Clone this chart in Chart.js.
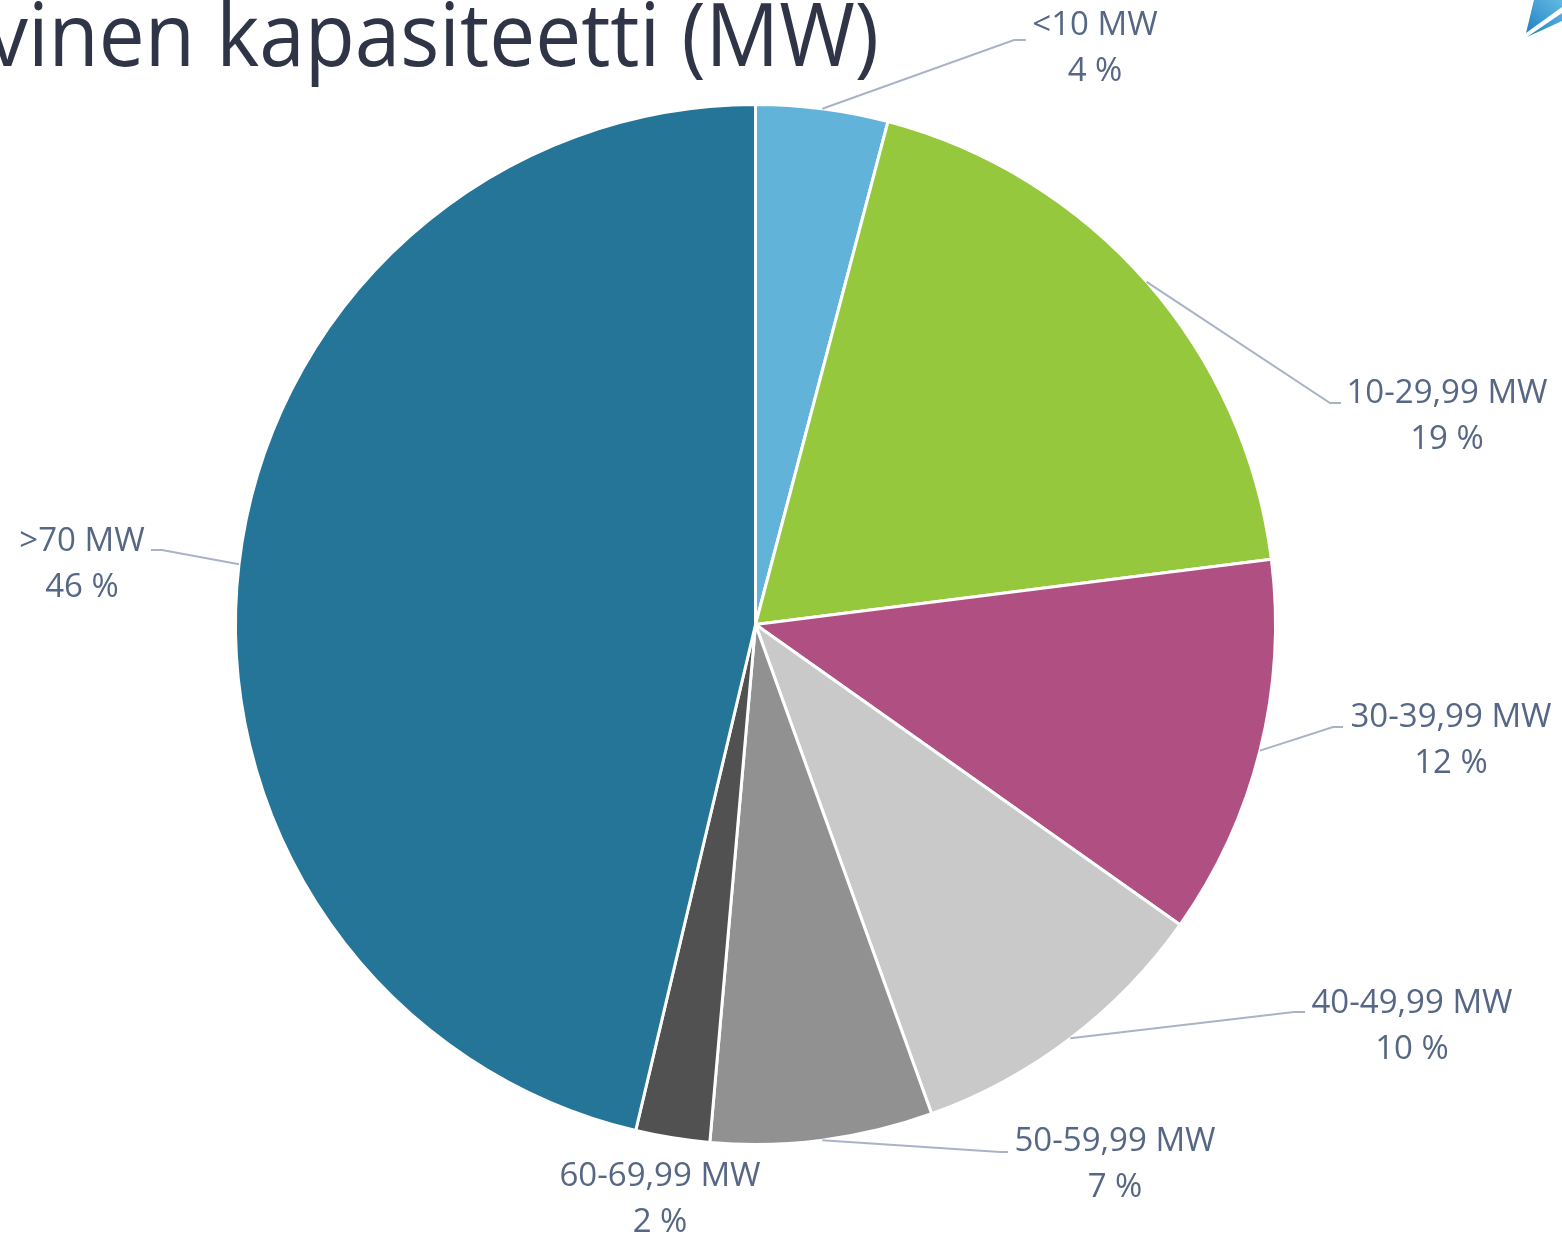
<!DOCTYPE html>
<html>
<head>
<meta charset="utf-8">
<title>kapasiteetti (MW)</title>
<script src="https://cdn.jsdelivr.net/npm/chart.js@4.4.0/dist/chart.umd.min.js"></script>
<style>
  html, body { margin: 0; padding: 0; background: #fff; overflow: hidden; }
  canvas { display: block; }
</style>
</head>
<body>
<canvas id="chart" width="1562" height="1235"></canvas>
<script>
// Data (share of capacity, %)
const categories = ['<10 MW', '10-29,99 MW', '30-39,99 MW', '40-49,99 MW', '50-59,99 MW', '60-69,99 MW', '>70 MW'];
const shares = [4.1, 18.9, 11.8, 9.7, 6.9, 2.3, 46.3];
const percentLabels = ['4 %', '19 %', '12 %', '10 %', '7 %', '2 %', '46 %'];
const sliceColors = ['#62B3D9', '#95C83D', '#B05082', '#C9C9C9', '#919191', '#515151', '#247598'];
const titleText = 'vinen kapasiteetti (MW)';

// Where each data label sits (text centre x, baseline of first line) and its leader elbow
const labelLayout = [
  { x: 1095, y: 35,   elbow: [1014, 40],   tail: 1026 },
  { x: 1447, y: 403,  elbow: [1330, 403],  tail: 1341 },
  { x: 1451, y: 727,  elbow: [1333, 727],  tail: 1343 },
  { x: 1412, y: 1013, elbow: [1294, 1012], tail: 1305 },
  { x: 1115, y: 1151, elbow: [1000, 1152], tail: 1008 },
  { x: 660,  y: 1186, elbow: null },
  { x: 82,   y: 551,  elbow: [162, 550],   tail: 151 }
];

const LABEL_FONT = '33px "Open Sans", "Noto Sans", sans-serif';
const LABEL_COLOR = '#566785';
const LEADER_COLOR = '#A9B3C6';

// Draws title, logo, leader lines and the two-line data labels
const decorations = {
  id: 'decorations',
  afterDraw(chart) {
    const ctx = chart.ctx;
    ctx.save();

    // title (cut off at the left edge like in the original)
    ctx.font = '88px "Open Sans", "Noto Sans", sans-serif';
    ctx.fillStyle = '#2F3546';
    ctx.textAlign = 'left';
    ctx.textBaseline = 'alphabetic';
    const w = ctx.measureText(titleText).width;
    ctx.save();
    ctx.translate(-13, 66);
    ctx.scale(892 / w, 1);
    ctx.fillText(titleText, 0, 0);
    ctx.restore();

    // small logo in the top right corner
    const grad = ctx.createLinearGradient(1527, 38, 1562, 0);
    grad.addColorStop(0, '#1D7FBF');
    grad.addColorStop(1, '#63B9E4');
    ctx.fillStyle = grad;
    ctx.beginPath();
    ctx.moveTo(1526, 33); ctx.lineTo(1534, 0); ctx.lineTo(1562, 0); ctx.lineTo(1562, 7); ctx.closePath();
    ctx.fill();
    ctx.beginPath();
    ctx.moveTo(1527, 37); ctx.lineTo(1562, 13); ctx.lineTo(1562, 21); ctx.closePath();
    ctx.fill();

    // leader lines + labels
    const meta = chart.getDatasetMeta(0);
    meta.data.forEach((arc, i) => {
      const p = arc.getProps(['x', 'y', 'startAngle', 'endAngle', 'outerRadius'], true);
      const mid = (p.startAngle + p.endAngle) / 2;
      const sx = p.x + Math.cos(mid) * p.outerRadius;
      const sy = p.y + Math.sin(mid) * p.outerRadius;
      const lay = labelLayout[i];

      if (lay.elbow) {
        ctx.strokeStyle = LEADER_COLOR;
        ctx.lineWidth = 2;
        ctx.beginPath();
        ctx.moveTo(sx, sy);
        ctx.lineTo(lay.elbow[0], lay.elbow[1]);
        ctx.lineTo(lay.tail, lay.elbow[1]);
        ctx.stroke();
      }

      ctx.font = LABEL_FONT;
      ctx.fillStyle = LABEL_COLOR;
      ctx.textAlign = 'center';
      ctx.textBaseline = 'alphabetic';
      ctx.fillText(categories[i], lay.x, lay.y);
      ctx.fillText(percentLabels[i], lay.x, lay.y + 46);
    });

    ctx.restore();
  }
};

new Chart(document.getElementById('chart').getContext('2d'), {
  type: 'pie',
  data: {
    labels: categories,
    datasets: [{
      data: shares,
      backgroundColor: sliceColors,
      borderColor: '#FFFFFF',
      borderWidth: 3
    }]
  },
  options: {
    responsive: false,
    animation: false,
    layout: {
      padding: { left: 234, top: 103, right: 285, bottom: 89 }
    },
    plugins: {
      legend: { display: false },
      tooltip: { enabled: false },
      title: { display: false }
    }
  },
  plugins: [decorations]
});
</script>
</body>
</html>
